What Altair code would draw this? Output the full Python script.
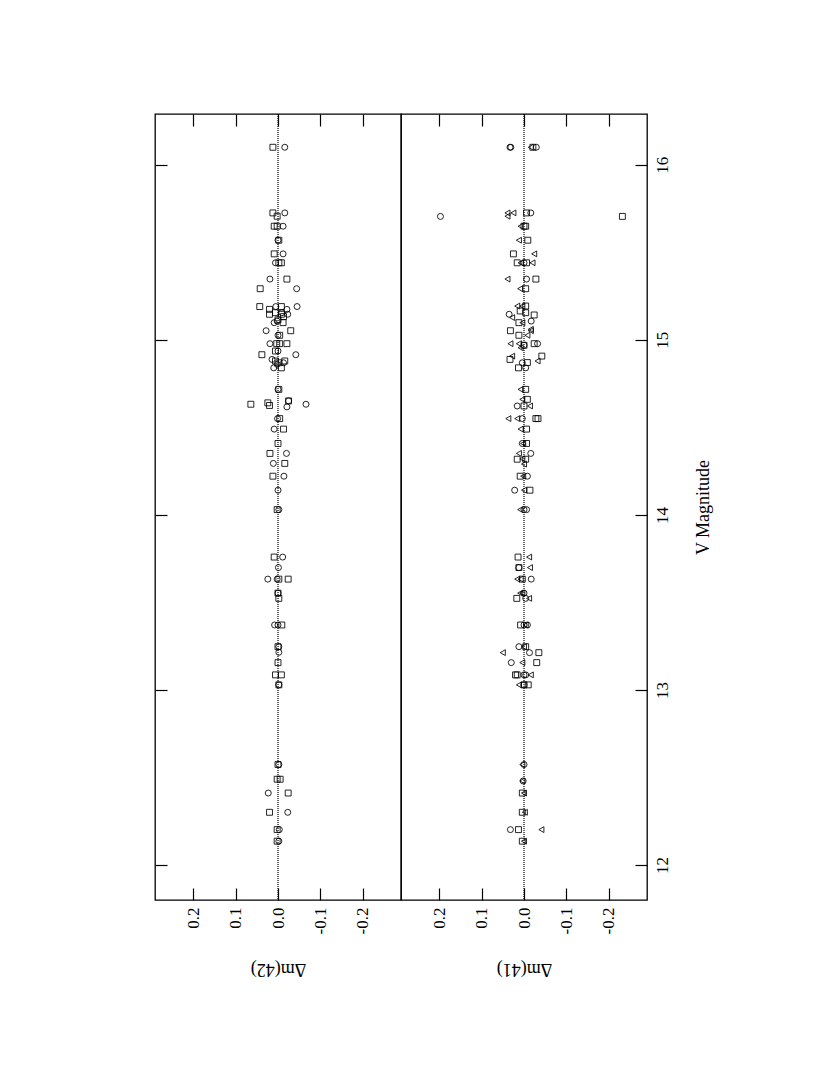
import altair as alt
import pandas as pd

# ---------------- data ----------------
# Panel "Δm(42)" : squares and circles
p42_sq_v = [16.10, 15.725, 15.706, 15.649, 15.649, 15.569, 15.491, 15.44, 15.44, 15.347,
            15.292, 15.19, 15.19, 15.174, 15.146, 15.155, 15.146, 15.133, 15.114, 15.098,
            15.052, 15.026, 14.978, 14.978, 14.978, 14.936, 14.915, 14.879, 14.879, 14.869,
            14.840, 14.717, 14.632, 14.651, 14.640, 14.625, 14.55, 14.49, 14.408, 14.351,
            14.294, 14.221, 14.03, 13.759, 13.633, 13.633, 13.553, 13.523, 13.371, 13.247,
            13.156, 13.086, 13.086, 13.029, 12.574, 12.49, 12.49, 12.411, 12.301, 12.202,
            12.136]
p42_sq_dm = [0.012, 0.012, 0.002, 0.009, 0.002, -0.002, 0.009, -0.008, -0.002, -0.021,
             0.042, 0.043, -0.008, 0.020, 0.020, 0.006, -0.008, -0.013, 0.000, -0.012,
             -0.030, -0.004, -0.021, 0.003, -0.004, 0.006, 0.038, 0.006, -0.016, -0.002,
             -0.008, -0.002, 0.064, -0.025, 0.024, 0.020, -0.004, -0.013, 0.000, 0.019,
             -0.016, 0.012, 0.002, 0.009, -0.002, -0.024, 0.000, -0.002, -0.009, 0.000,
             0.000, 0.006, -0.008, -0.002, 0.000, 0.002, -0.005, -0.024, 0.020, 0.002,
             0.002]
p42_ci_v = [16.10, 15.725, 15.649, 15.569, 15.491, 15.44, 15.347, 15.292, 15.19, 15.19,
            15.174, 15.155, 15.146, 15.098, 15.107, 15.052, 15.026, 14.978, 14.936, 14.915,
            14.888, 14.869, 14.860, 14.840, 14.717, 14.651, 14.617, 14.632, 14.55, 14.49,
            14.351, 14.294, 14.221, 14.141, 14.03, 13.759, 13.699, 13.633, 13.633, 13.553,
            13.371, 13.371, 13.247, 13.215, 13.029, 12.574, 12.411, 12.301, 12.202, 12.136]
p42_ci_dm = [-0.016, -0.016, -0.012, 0.000, -0.012, 0.006, 0.019, -0.044, -0.045, 0.005,
             -0.021, -0.009, -0.023, 0.009, 0.002, 0.028, 0.000, 0.019, 0.000, -0.042,
             0.014, -0.013, 0.002, 0.010, 0.000, -0.025, -0.021, -0.066, 0.001, 0.009,
             -0.020, 0.011, -0.014, 0.000, -0.002, -0.011, -0.001, 0.024, 0.002, 0.000,
             0.008, 0.000, -0.002, -0.002, -0.002, -0.002, 0.023, -0.023, -0.003, -0.002]

# Panel "Δm(41)" : squares, circles and triangles
p41_sq_v = [16.10, 15.705, 15.725, 15.649, 15.649, 15.569, 15.491, 15.44, 15.44, 15.347,
            15.292, 15.193, 15.165, 15.155, 15.142, 15.098, 15.052, 15.026, 14.978, 14.969,
            14.888, 14.870, 14.907, 14.840, 14.717, 14.660, 14.622, 14.55, 14.55, 14.49,
            14.408, 14.318, 14.318, 14.221, 14.141, 13.759, 13.699, 13.633, 13.523, 13.371,
            13.247, 13.213, 13.156, 13.086, 13.086, 13.029, 13.029, 12.411, 12.301, 12.202,
            12.136]
p41_sq_dm = [-0.021, -0.232, -0.006, 0.000, -0.004, -0.009, 0.025, 0.016, -0.006, -0.028,
             -0.004, -0.004, 0.009, -0.004, -0.024, 0.012, 0.032, 0.012, -0.024, 0.000,
             0.033, -0.008, -0.042, 0.013, -0.004, -0.008, 0.000, -0.028, -0.033, -0.006,
             -0.006, 0.016, -0.004, 0.009, -0.014, 0.014, 0.012, 0.004, 0.017, 0.008,
             -0.004, -0.035, -0.030, 0.020, 0.016, 0.000, -0.010, 0.004, 0.004, 0.013,
             0.004]
p41_ci_v = [16.10, 16.10, 16.10, 15.705, 15.725, 15.44, 15.347, 15.146, 15.107, 14.978,
            14.969, 14.869, 14.840, 14.622, 14.55, 14.408, 14.351, 14.221, 14.141, 14.03,
            14.03, 13.699, 13.633, 13.553, 13.523, 13.371, 13.371, 13.247, 13.213, 13.156,
            13.086, 13.086, 13.029, 12.574, 12.48, 12.202]
p41_ci_dm = [0.033, 0.031, -0.029, 0.197, -0.016, 0.000, -0.006, 0.035, -0.017, -0.032,
             0.000, 0.004, -0.004, 0.016, 0.004, 0.004, -0.016, -0.008, 0.022, 0.000,
             -0.006, 0.012, -0.017, 0.000, -0.004, 0.000, -0.008, 0.012, -0.013, 0.030,
             0.000, -0.004, 0.000, 0.000, 0.002, 0.032]
p41_tr_v = [16.10, 15.725, 15.706, 15.725, 15.649, 15.569, 15.491, 15.44, 15.44, 15.347,
            15.292, 15.193, 15.193, 15.127, 15.098, 15.060, 15.052, 15.026, 14.978, 14.978,
            14.955, 14.907, 14.879, 14.717, 14.660, 14.622, 14.55, 14.55, 14.49, 14.408,
            14.351, 14.32, 14.29, 14.221, 14.141, 14.03, 13.759, 13.699, 13.633, 13.633,
            13.553, 13.553, 13.523, 13.371, 13.247, 13.213, 13.156, 13.086, 13.029, 12.574,
            12.48, 12.411, 12.301, 12.202, 12.136]
p41_tr_dm = [-0.016, 0.039, 0.039, 0.025, 0.008, 0.012, -0.024, 0.008, -0.020, 0.039,
             0.009, 0.016, 0.004, 0.028, 0.004, -0.016, -0.016, -0.008, 0.032, 0.012,
             0.008, 0.028, -0.032, 0.008, 0.004, -0.014, 0.037, 0.016, 0.008, 0.002,
             0.012, 0.004, 0.000, 0.002, 0.000, 0.009, -0.012, -0.014, 0.016, 0.008,
             0.009, 0.004, -0.012, -0.004, 0.000, 0.050, 0.004, -0.016, 0.012, 0.004,
             0.004, 0.000, -0.002, -0.041, 0.000]

dm_ticks = [0.2, 0.1, 0.0, -0.1, -0.2]
v_ticks = [12, 13, 14, 15, 16]
panel_titles = ["\u0394m(42)", "\u0394m(41)"]
x_title = "V Magnitude"


def frame(pairs):
    rows = []
    for shape, vs, dms in pairs:
        for v, d in zip(vs, dms):
            rows.append({"shape": shape, "V": v, "dm": d})
    return pd.DataFrame(rows)


df42 = frame([("square", p42_sq_v, p42_sq_dm), ("circle", p42_ci_v, p42_ci_dm)])
df41 = frame([("square", p41_sq_v, p41_sq_dm), ("circle", p41_ci_v, p41_ci_dm),
              ("triangle", p41_tr_v, p41_tr_dm)])

FONT = "Liberation Serif"
TICK = 12
label_expr = "datum.value < 0 ? '-' + format(-datum.value, '.1f') : format(datum.value, '.1f')"

shape_scale = alt.Scale(domain=["circle", "square", "triangle"],
                        range=["circle", "square", "triangle-left"])
size_scale = alt.Scale(domain=["circle", "square", "triangle"], range=[36, 34, 26])
x_scale = alt.Scale(domain=[-0.29, 0.29], reverse=True, nice=False, zero=False)
y_scale = alt.Scale(domain=[11.8, 16.29], nice=False, zero=False)


def panel(df, title, right_side):
    bottom_axis = alt.Axis(orient="bottom", values=dm_ticks, labelExpr=label_expr,
                           offset=-TICK, tickSize=TICK, labelPadding=7,
                           labelAngle=270, labelAlign="right", labelBaseline="middle",
                           labelFontSize=17, labelFont=FONT, title=title,
                           titleFont=FONT, titleFontSize=18, titleFontWeight="normal",
                           titleAngle=180, titleBaseline="bottom", titlePadding=26,
                           domain=False, grid=False, labelFlush=False, labelOverlap=False)
    if right_side:
        y_axis = alt.Axis(orient="right", values=v_ticks, format="d",
                          offset=-TICK, tickSize=TICK, labelPadding=7,
                          labelAngle=270, labelAlign="center", labelBaseline="top",
                          labelFontSize=17, labelFont=FONT, title=x_title,
                          titleFont=FONT, titleFontSize=18, titleFontWeight="normal",
                          titleAngle=270, titleBaseline="top", titlePadding=24,
                          domain=False, grid=False, labelFlush=False, labelOverlap=False)
    else:
        y_axis = alt.Axis(orient="left", values=v_ticks, offset=-TICK, tickSize=TICK,
                          labels=False, title=None, domain=False, grid=False)
    pts = alt.Chart(df).mark_point(filled=False, stroke="black", strokeWidth=0.85,
                                   opacity=1).encode(
        x=alt.X("dm:Q", scale=x_scale, axis=bottom_axis),
        y=alt.Y("V:Q", scale=y_scale, axis=y_axis),
        shape=alt.Shape("shape:N", scale=shape_scale, legend=None),
        size=alt.Size("shape:N", scale=size_scale, legend=None),
    )
    zero = alt.Chart(pd.DataFrame({"dm": [0.0]})).mark_rule(
        color="black", strokeWidth=1.2, strokeDash=[1, 1]).encode(
        x=alt.X("dm:Q", scale=x_scale,
                axis=alt.Axis(orient="top", values=dm_ticks, offset=-TICK, tickSize=TICK,
                              labels=False, title=None, domain=False, grid=False))
    )
    return alt.layer(pts, zero).properties(width=246, height=786)


chart = alt.hconcat(panel(df42, panel_titles[0], False),
                    panel(df41, panel_titles[1], True),
                    spacing=0, bounds="flush").properties(
    padding={"left": 145, "top": 104, "right": 5, "bottom": 5}
).configure_view(stroke="black", strokeWidth=1.3).configure_axis(
    tickColor="black", tickWidth=1.2, labelColor="black", titleColor="black"
)

chart.save("out.html", embed_options={"renderer": "svg", "actions": False})
